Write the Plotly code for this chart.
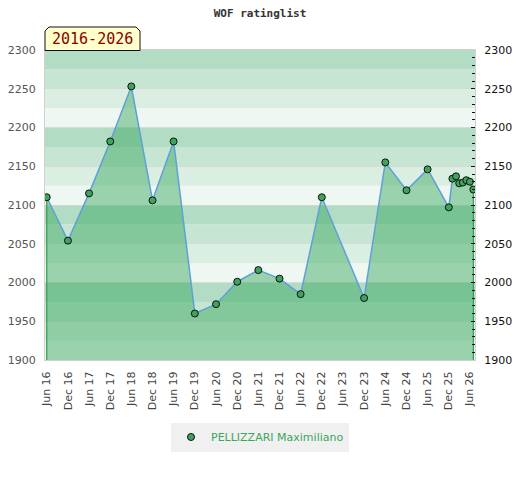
import plotly.graph_objects as go

# ---- data ----
dates = ["2016-06-01", "2016-12-01", "2017-06-01", "2017-12-01", "2018-06-01",
         "2018-12-01", "2019-06-01", "2019-12-01", "2020-06-01", "2020-12-01",
         "2021-06-01", "2021-12-01", "2022-06-01", "2022-12-01", "2023-12-01",
         "2024-06-01", "2024-12-01", "2025-06-01", "2025-12-01", "2026-01-01",
         "2026-02-01", "2026-03-01", "2026-04-01", "2026-05-01", "2026-06-01",
         "2026-07-01"]
ratings = [2110, 2054, 2115, 2182, 2253, 2106, 2182, 1960, 1972, 2001,
           2016, 2005, 1985, 2110, 1980, 2155, 2119, 2146, 2097, 2134,
           2137, 2128, 2129, 2132, 2130, 2120]
player = "PELLIZZARI Maximiliano"
title_text = "WOF ratinglist"
period_label = "2016-2026"
tick_vals = ["2016-06-01", "2016-12-01", "2017-06-01", "2017-12-01", "2018-06-01",
             "2018-12-01", "2019-06-01", "2019-12-01", "2020-06-01", "2020-12-01",
             "2021-06-01", "2021-12-01", "2022-06-01", "2022-12-01", "2023-06-01",
             "2023-12-01", "2024-06-01", "2024-12-01", "2025-06-01", "2025-12-01",
             "2026-06-01"]
tick_text = ["Jun 16", "Dec 16", "Jun 17", "Dec 17", "Jun 18", "Dec 18", "Jun 19",
             "Dec 19", "Jun 20", "Dec 20", "Jun 21", "Dec 21", "Jun 22", "Dec 22",
             "Jun 23", "Dec 23", "Jun 24", "Dec 24", "Jun 25", "Dec 25", "Jun 26"]
y_ticks = [1900, 1950, 2000, 2050, 2100, 2150, 2200, 2250, 2300]

Y_MIN, Y_MAX = 1900, 2300
X_RANGE = ["2016-05-17", "2026-07-15"]

LINE_BLUE = "#5fa0d8"
MARK_GREEN = "#3da35d"
FILL_GREEN = "rgba(45,163,85,0.44)"
band_colors = ["#eef7f2", "#dbeee2", "#c7e5d3", "#b3dcc4"]  # bottom->top in each 100 block

fig = go.Figure()

# filled area + line
fig.add_trace(go.Scatter(
    x=dates, y=ratings, mode="lines", fill="tozeroy", fillcolor=FILL_GREEN,
    line=dict(color=LINE_BLUE, width=1.5), showlegend=False, hoverinfo="skip"))

# fill edges (vertical green strokes at both ends)
fig.add_trace(go.Scatter(
    x=[dates[0], dates[0], None, dates[-1], dates[-1]],
    y=[Y_MIN, ratings[0], None, Y_MIN, ratings[-1]],
    mode="lines", line=dict(color="#2e9e50", width=1.2),
    showlegend=False, hoverinfo="skip"))

# markers
fig.add_trace(go.Scatter(
    x=dates, y=ratings, mode="markers",
    marker=dict(color=MARK_GREEN, size=7, line=dict(color="#111", width=1)),
    name=player, showlegend=True))

# invisible trace for right axis
fig.add_trace(go.Scatter(
    x=[dates[0]], y=[ratings[0]], yaxis="y2", mode="markers",
    marker=dict(opacity=0), showlegend=False, hoverinfo="skip"))

# background bands
shapes = []
b = Y_MIN
i = 0
while b < Y_MAX:
    shapes.append(dict(type="rect", xref="paper", yref="y", x0=0, x1=1,
                       y0=b, y1=b + 25, fillcolor=band_colors[i % 4],
                       line=dict(width=0), layer="below"))
    b += 25
    i += 1

# period label box with clipped top corners (paper coords)
def px(xp):
    return (xp - 45) / 430.0

def py(yp):
    return (360 - yp) / 310.0

path = "M {} {} L {} {} L {} {} L {} {} L {} {} L {} {} Z".format(
    px(45), py(50.5), px(45), py(31), px(49), py(27), px(136), py(27),
    px(140), py(31), px(140), py(50.5))
shapes.append(dict(type="path", xref="paper", yref="paper", path=path,
                   fillcolor="#ffffcc", line=dict(color="#111", width=1),
                   layer="above"))

fig.update_layout(
    width=520, height=480,
    margin=dict(l=45, r=45, t=50, b=120, autoexpand=False),
    paper_bgcolor="white", plot_bgcolor="white",
    title=dict(text="<b>" + title_text + "</b>", x=0.5, xanchor="center",
               y=0.973, yanchor="middle",
               font=dict(family="DejaVu Sans Mono", size=11, color="#333")),
    shapes=shapes,
    annotations=[dict(text=period_label, xref="paper", yref="paper",
                      x=px(92.5), y=py(39.5), showarrow=False,
                      xanchor="center", yanchor="middle",
                      font=dict(family="DejaVu Sans Mono", size=15, color="#8b0000"))],
    xaxis=dict(type="date", range=X_RANGE, tickmode="array", tickvals=tick_vals,
               ticktext=tick_text, tickangle=-90, showgrid=False, zeroline=False,
               showline=True, linecolor="#d0d0d0", linewidth=1, mirror=True,
               ticks="", ticklabelstandoff=6, automargin=False,
               tickfont=dict(family="DejaVu Sans", size=11, color="#444")),
    yaxis=dict(range=[Y_MIN, Y_MAX], tickmode="array", tickvals=y_ticks,
               showgrid=True, gridcolor="rgba(215,215,215,0.9)", gridwidth=1,
               zeroline=False, showline=True, linecolor="#d0d0d0", linewidth=1,
               ticks="", ticklabelstandoff=6, automargin=False,
               tickfont=dict(family="DejaVu Sans", size=11, color="#555")),
    yaxis2=dict(range=[Y_MIN, Y_MAX], overlaying="y", side="right",
                tickmode="array", tickvals=y_ticks, showgrid=False, zeroline=False,
                showline=True, linecolor="#d0d0d0", linewidth=1,
                ticks="inside", ticklen=4, tickcolor="#111", tickwidth=1,
                minor=dict(ticks="inside", ticklen=3, dtick=10, tickcolor="#111",
                           tickwidth=1, showgrid=False),
                ticklabelstandoff=6, automargin=False,
                tickfont=dict(family="DejaVu Sans", size=11, color="#111")),
    legend=dict(orientation="h", x=0.5, xanchor="center", y=py(437),
                yanchor="middle", bgcolor="#f0f0f0", itemwidth=30,
                font=dict(family="DejaVu Sans", size=11, color="#3aa65c")),
    hovermode=False,
)

fig.write_html("out.html", config={"displayModeBar": False},
               post_script="document.body.style.margin='0';document.body.style.padding='0';")
